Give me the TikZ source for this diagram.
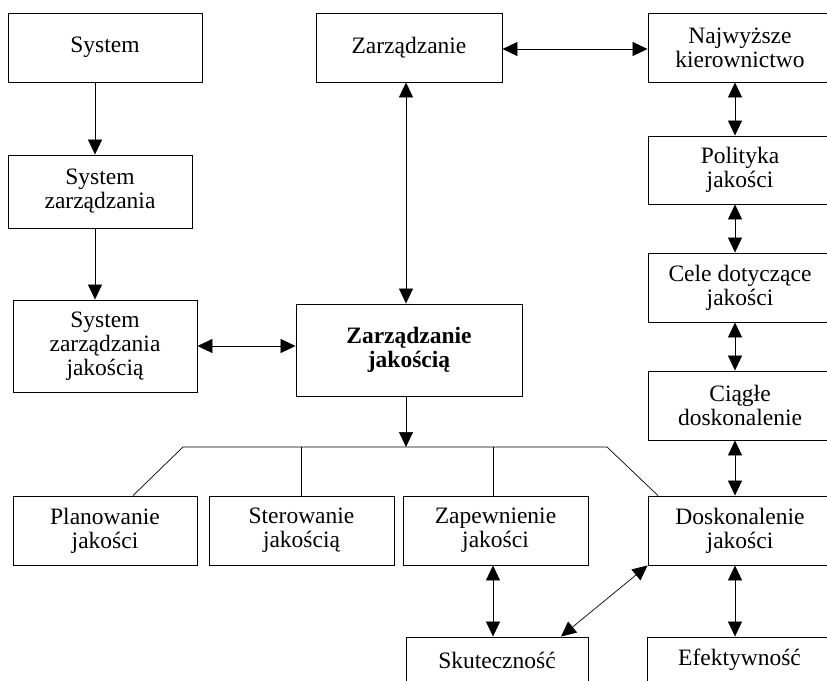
\documentclass[tikz,border=0pt]{standalone}
\usepackage{fontspec}
\setmainfont{Liberation Serif}
\usetikzlibrary{arrows.meta,calc}
\begin{document}
\begin{tikzpicture}[x=1pt,y=-1pt,
  box/.style={draw, line width=0.9pt, inner sep=0pt, align=center, font=\fontsize{23.5}{24}\selectfont},
  conn/.style={line width=0.7pt},
  arr/.style={conn, -{Triangle[length=15pt,width=14pt]}},
  barr/.style={conn, {Triangle[length=15pt,width=14pt]}-{Triangle[length=15pt,width=14pt]}}]
\useasboundingbox (0,0) rectangle (827,680);
\clip (0,0) rectangle (827,680);
% left column
\node[box, minimum width=194pt, minimum height=69pt] (sys) at (105,47.5) {System};
\node[box, minimum width=184pt, minimum height=73pt] (sz) at (100,191.5) {System\\zarządzania};
\node[box, minimum width=184pt, minimum height=92pt] (szj) at (105,346) {System\\zarządzania\\jakością};
% middle
\node[box, minimum width=186pt, minimum height=69pt] (zar) at (409,47.5) {Zarządzanie};
\node[box, minimum width=226pt, minimum height=92pt, font=\fontsize{23.5}{24}\selectfont\bfseries] (zj) at (409,350) {Zarządzanie\\jakością};
% right column
\node[box, minimum width=184pt, minimum height=69pt] (nk) at (740,47.5) {Najwyższe\\kierownictwo};
\node[box, minimum width=184pt, minimum height=68pt] (pj) at (740,170) {Polityka\\jakości};
\node[box, minimum width=184pt, minimum height=69pt] (cdj) at (740,287.5) {Cele dotyczące\\jakości};
\node[box, minimum width=184pt, minimum height=69pt] (cd) at (740,405.5) {Ciągłe\\doskonalenie};
\node[box, minimum width=184pt, minimum height=69pt] (dj) at (740,530.5) {Doskonalenie\\jakości};
\node[box, minimum width=185pt, minimum height=46pt] (ef) at (739.5,660) {Efektywność};
% bottom row
\node[box, minimum width=184pt, minimum height=69pt] (pl) at (105,530.5) {Planowanie\\jakości};
\node[box, minimum width=185pt, minimum height=69pt] (st) at (301.5,530.5) {Sterowanie\\jakością};
\node[box, minimum width=185pt, minimum height=69pt] (zap) at (495.5,530.5) {Zapewnienie\\jakości};
\node[box, minimum width=182pt, minimum height=46pt] (sk) at (497,660) {Skuteczność};
% bus coordinates
\coordinate (bl) at (183,447);
\coordinate (br) at (607,447);
% connectors
\draw[arr] ([xshift=-10pt]sys.south) -- ([xshift=-5pt]sz.north);
\draw[arr] ([xshift=-5pt]sz.south) -- ([xshift=-10pt]szj.north);
\draw[barr] ([xshift=-3pt]zar.south) -- ([xshift=-3pt]zj.north);
\draw[barr] ([yshift=-1.5pt]zar.east) -- ([yshift=-1.5pt]zar.east -| nk.west);
\draw[barr] (szj.east) -- (szj.east -| zj.west);
\draw[barr] ([xshift=-5pt]nk.south) -- ([xshift=-5pt]pj.north);
\draw[barr] ([xshift=-5pt]pj.south) -- ([xshift=-5pt]cdj.north);
\draw[barr] ([xshift=-5pt]cdj.south) -- ([xshift=-5pt]cd.north);
\draw[barr] ([xshift=-5pt]cd.south) -- ([xshift=-5pt]dj.north);
\draw[barr] ([xshift=-5pt]dj.south) -- ([xshift=-4.5pt]ef.north);
\draw[arr] ([xshift=-3pt]zj.south) -- ([xshift=-3pt]zj.south |- bl);
\draw[conn] ([xshift=28pt]pl.north) -- (bl) -- (br) -- ([xshift=-82pt]dj.north);
\draw[conn] (st.north |- bl) -- (st.north);
\draw[conn] ([xshift=-2.5pt]zap.north |- bl) -- ([xshift=-2.5pt]zap.north);
\draw[barr] ([xshift=-2.5pt]zap.south) -- ([xshift=-4pt]sk.north);
\draw[barr] (dj.south west) -- ([xshift=64pt]sk.north);
\end{tikzpicture}
\end{document}
